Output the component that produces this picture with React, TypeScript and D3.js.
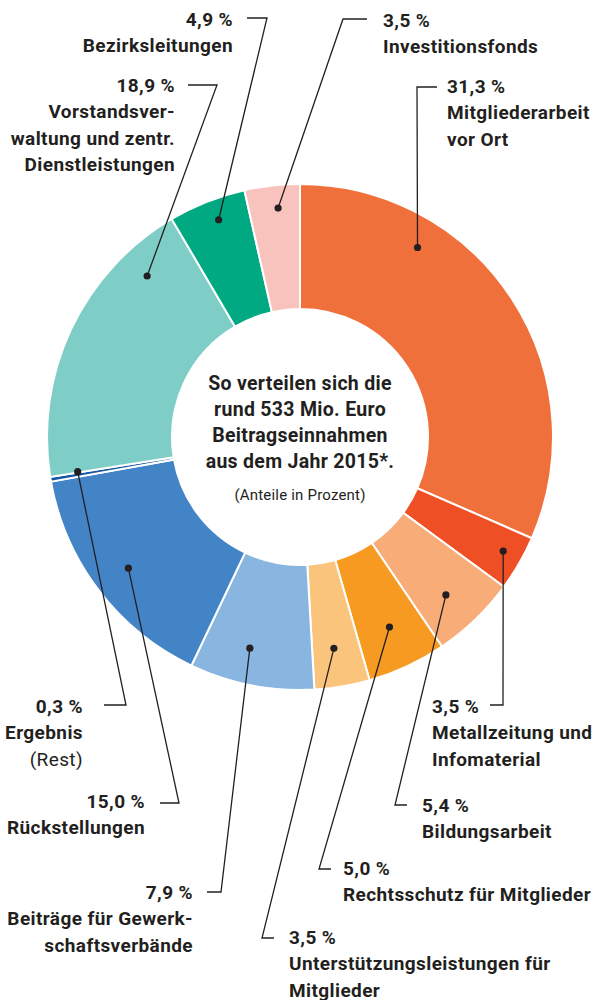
import React from "react";
import * as d3 from "d3";

const categories = [
  "Mitgliederarbeit vor Ort",
  "Metallzeitung und Infomaterial",
  "Bildungsarbeit",
  "Rechtsschutz für Mitglieder",
  "Unterstützungsleistungen für Mitglieder",
  "Beiträge für Gewerkschaftsverbände",
  "Rückstellungen",
  "Ergebnis (Rest)",
  "Vorstandsverwaltung und zentr. Dienstleistungen",
  "Bezirksleitungen",
  "Investitionsfonds",
];
const values = [31.3, 3.5, 5.4, 5.0, 3.5, 7.9, 15.0, 0.3, 18.9, 4.9, 3.5];
const labelLines = [
  ["Mitgliederarbeit", "vor Ort"],
  ["Metallzeitung und", "Infomaterial"],
  ["Bildungsarbeit"],
  ["Rechtsschutz für Mitglieder"],
  ["Unterstützungsleistungen für", "Mitglieder"],
  ["Beiträge für Gewerk-", "schaftsverbände"],
  ["Rückstellungen"],
  ["Ergebnis"],
  ["Vorstandsver-", "waltung und zentr.", "Dienstleistungen"],
  ["Bezirksleitungen"],
  ["Investitionsfonds"],
];
const subLines = ["", "", "", "", "", "", "", "(Rest)", "", "", ""];
const colors = [
  "#F0703C", "#EF4F24", "#F8AC78", "#F79A22", "#FBC47C",
  "#88B6E0", "#4384C6", "#1656A6", "#7FCDC7", "#00A982", "#F9C3BD",
];
const centerLines = [
  "So verteilen sich die",
  "rund 533 Mio. Euro",
  "Beitragseinnahmen",
  "aus dem Jahr 2015*.",
];
const centerNote = "(Anteile in Prozent)";

// layout (positions of label callouts)
const layout = [
  { f: 0.28, r: 223, ex: 417, ey: 87, tx2: 437, tx: 447, ty: 93, a: "start" },
  { f: 0.45, r: 233, ex: 503, ey: 705, tx2: 490, tx: 432, ty: 713, a: "start" },
  { f: 0.56, r: 215, ex: 395, ey: 805, tx2: 407, tx: 422, ty: 812, a: "start" },
  { f: 0.49, r: 210, ex: 319, ey: 869, tx2: 331, tx: 343, ty: 875, a: "start" },
  { f: 0.54, r: 214, ex: 262, ey: 938, tx2: 274, tx: 289, ty: 944, a: "start" },
  { f: 0.58, r: 217, ex: 221, ey: 892, tx2: 207, tx: 193, ty: 899, a: "end" },
  { f: 0.5, r: 216, ex: 179, ey: 803, tx2: 160, tx: 145, ty: 808, a: "end" },
  { f: 1.2, r: 225, ex: 126, ey: 705, tx2: 104, tx: 83, ty: 713, a: "end" },
  { f: 0.81, r: 222, ex: 217, ey: 85, tx2: 188, tx: 175, ty: 92, a: "end" },
  { f: 0.56, r: 232, ex: 267, ey: 18, tx2: 247, tx: 233, ty: 26, a: "end" },
  { f: 0.57, r: 230, ex: 343, ey: 19, tx2: 367, tx: 383, ty: 27, a: "start" },
];

const W = 601;
const H = 1000;
const cx = 300;
const cy = 437;
const outerR = 253;
const innerR = 128;
const LH = 26.4;
const FONT = "Roboto, 'Open Sans', sans-serif";
const INK = "#231F20";
const FS = 19;
const LS = 0.4;

const fmt = (v: number) => d3.format(".1f")(v).replace(".", ",") + " %";

export default function App() {
  const pie = d3.pie<number>().sort(null).value((d) => d);
  const arcs = pie(values);
  const arc = d3.arc<d3.PieArcDatum<number>>().innerRadius(innerR).outerRadius(outerR);

  return (
    <svg
      width={W}
      height={H}
      style={{ position: "absolute", left: 0, top: 0, background: "#fff" }}
      fontFamily={FONT}
    >
      <g transform={`translate(${cx},${cy})`}>
        {arcs.map((a, i) => (
          <path key={categories[i]} d={arc(a) || ""} fill={colors[i]} stroke="#fff" strokeWidth={2} />
        ))}
      </g>
      {arcs.map((a, i) => {
        const L = layout[i];
        const ang = a.startAngle + L.f * (a.endAngle - a.startAngle);
        const dx = cx + L.r * Math.sin(ang);
        const dy = cy - L.r * Math.cos(ang);
        return (
          <g key={"l" + i}>
            <polyline
              points={`${dx},${dy} ${L.ex},${L.ey} ${L.tx2},${L.ey}`}
              fill="none"
              stroke={INK}
              strokeWidth={1.3}
            />
            <circle cx={dx} cy={dy} r={3.6} fill={INK} />
            <text x={L.tx} y={L.ty} textAnchor={L.a} fontWeight={700} fontSize={FS} letterSpacing={LS} fill={INK}>
              {fmt(values[i])}
            </text>
            {labelLines[i].map((t, j) => (
              <text
                key={j}
                x={L.tx}
                y={L.ty + LH * (j + 1)}
                textAnchor={L.a}
                fontWeight={700}
                fontSize={FS}
                letterSpacing={LS}
                fill={INK}
              >
                {t}
              </text>
            ))}
            {subLines[i] && (
              <text
                x={L.tx}
                y={L.ty + LH * (labelLines[i].length + 1)}
                textAnchor={L.a}
                fontWeight={400}
                fontSize={FS}
                letterSpacing={LS}
                fill={INK}
              >
                {subLines[i]}
              </text>
            )}
          </g>
        );
      })}
      {centerLines.map((t, j) => (
        <text
          key={t}
          x={cx}
          y={390 + j * 26}
          textAnchor="middle"
          fontWeight={700}
          fontSize={19.5}
          letterSpacing={0.3}
          fill={INK}
        >
          {t}
        </text>
      ))}
      <text x={cx} y={500} textAnchor="middle" fontSize={15} letterSpacing={0.2} fill={INK}>
        {centerNote}
      </text>
    </svg>
  );
}
